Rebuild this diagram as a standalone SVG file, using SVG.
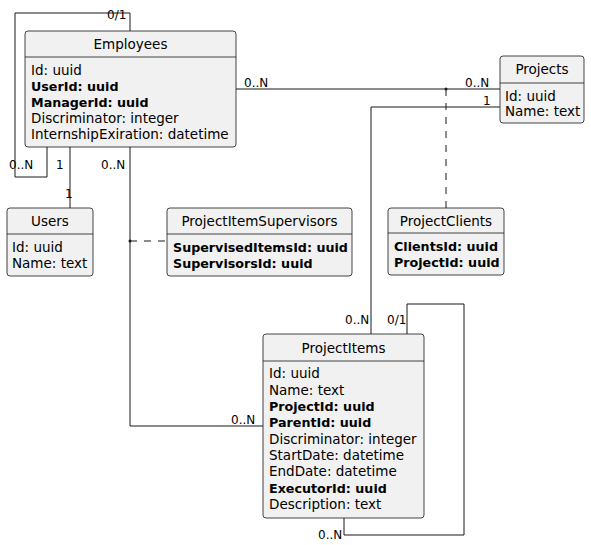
<svg xmlns="http://www.w3.org/2000/svg" width="591" height="545" viewBox="0 0 591 545">
<style>
.box{fill:#F1F1F1;stroke:#181818;stroke-width:0.8}
.sep{stroke:#181818;stroke-width:0.8}
text{font-family:"DejaVu Sans","Liberation Sans",Arial,sans-serif;font-size:13.5px;fill:#000}
.t{text-anchor:middle}
.b{font-weight:bold;font-size:12.7px}
.lbl{font-size:12px}
.ln{fill:none;stroke:#181818;stroke-width:1}
.dash{fill:none;stroke:#181818;stroke-width:1;stroke-dasharray:7,7}
</style>
<rect width="591" height="545" fill="#fff"/>
<g id="connectors">
<polyline class="ln" points="130,31 130,13 15,13 15,177 47,177 47,147"/>
<line class="ln" x1="70" y1="147" x2="70" y2="208"/>
<polyline class="ln" points="130,147 130,426 263,426"/>
<line class="ln" x1="236" y1="89" x2="500" y2="89"/>
<polyline class="ln" points="500,107 371,107 371,334"/>
<polyline class="ln" points="407,334 407,304 464,304 464,535 344,535 344,518"/>
<line class="dash" x1="446" y1="89" x2="446" y2="208"/>
<line class="dash" x1="130" y1="241" x2="167" y2="241"/>
<circle cx="446" cy="89" r="1.5" fill="#181818"/>
<circle cx="130" cy="241" r="1.5" fill="#181818"/>
<text class="lbl" x="107" y="19">0/1</text>
<text class="lbl" x="9" y="169">0..N</text>
<text class="lbl" x="56" y="169">1</text>
<text class="lbl" x="65" y="198">1</text>
<text class="lbl" x="101" y="169">0..N</text>
<text class="lbl" x="231" y="424">0..N</text>
<text class="lbl" x="244" y="87">0..N</text>
<text class="lbl" x="465" y="87">0..N</text>
<text class="lbl" x="483" y="105">1</text>
<text class="lbl" x="345" y="324">0..N</text>
<text class="lbl" x="387" y="324">0/1</text>
<text class="lbl" x="318" y="539">0..N</text>
</g>
<g id="Employees">
<rect class="box" x="25" y="31" width="211" height="116" rx="3"/>
<line class="sep" x1="25" y1="57" x2="236" y2="57"/>
<text class="t" x="130.5" y="49">Employees</text>
<text x="31" y="75">Id: uuid</text>
<text class="b" x="31" y="91">UserId: uuid</text>
<text class="b" x="31" y="107">ManagerId: uuid</text>
<text x="31" y="123">Discriminator: integer</text>
<text x="31" y="139">InternshipExiration: datetime</text>
</g>
<g id="Projects">
<rect class="box" x="500" y="56" width="84" height="67" rx="3"/>
<line class="sep" x1="500" y1="83" x2="584" y2="83"/>
<text class="t" x="542" y="74">Projects</text>
<text x="505" y="101">Id: uuid</text>
<text x="505" y="116">Name: text</text>
</g>
<g id="Users">
<rect class="box" x="7" y="208" width="86" height="68" rx="3"/>
<line class="sep" x1="7" y1="234" x2="93" y2="234"/>
<text class="t" x="50" y="226">Users</text>
<text x="12" y="252">Id: uuid</text>
<text x="12" y="268">Name: text</text>
</g>
<g id="ProjectItemSupervisors">
<rect class="box" x="167" y="208" width="185" height="68" rx="3"/>
<line class="sep" x1="167" y1="234" x2="352" y2="234"/>
<text class="t" x="259.5" y="226">ProjectItemSupervisors</text>
<text class="b" x="173" y="252">SupervisedItemsId: uuid</text>
<text class="b" x="173" y="268">SupervisorsId: uuid</text>
</g>
<g id="ProjectClients">
<rect class="box" x="388" y="208" width="116" height="67" rx="3"/>
<line class="sep" x1="388" y1="233" x2="504" y2="233"/>
<text class="t" x="446" y="226">ProjectClients</text>
<text class="b" x="394" y="251">ClientsId: uuid</text>
<text class="b" x="394" y="267">ProjectId: uuid</text>
</g>
<g id="ProjectItems">
<rect class="box" x="263" y="334" width="161" height="184" rx="3"/>
<line class="sep" x1="263" y1="361" x2="424" y2="361"/>
<text class="t" x="343.5" y="353">ProjectItems</text>
<text x="269" y="378">Id: uuid</text>
<text x="269" y="395">Name: text</text>
<text class="b" x="269" y="411">ProjectId: uuid</text>
<text class="b" x="269" y="427">ParentId: uuid</text>
<text x="269" y="444">Discriminator: integer</text>
<text x="269" y="460">StartDate: datetime</text>
<text x="269" y="476">EndDate: datetime</text>
<text class="b" x="269" y="493">ExecutorId: uuid</text>
<text x="269" y="509">Description: text</text>
</g>
</svg>
